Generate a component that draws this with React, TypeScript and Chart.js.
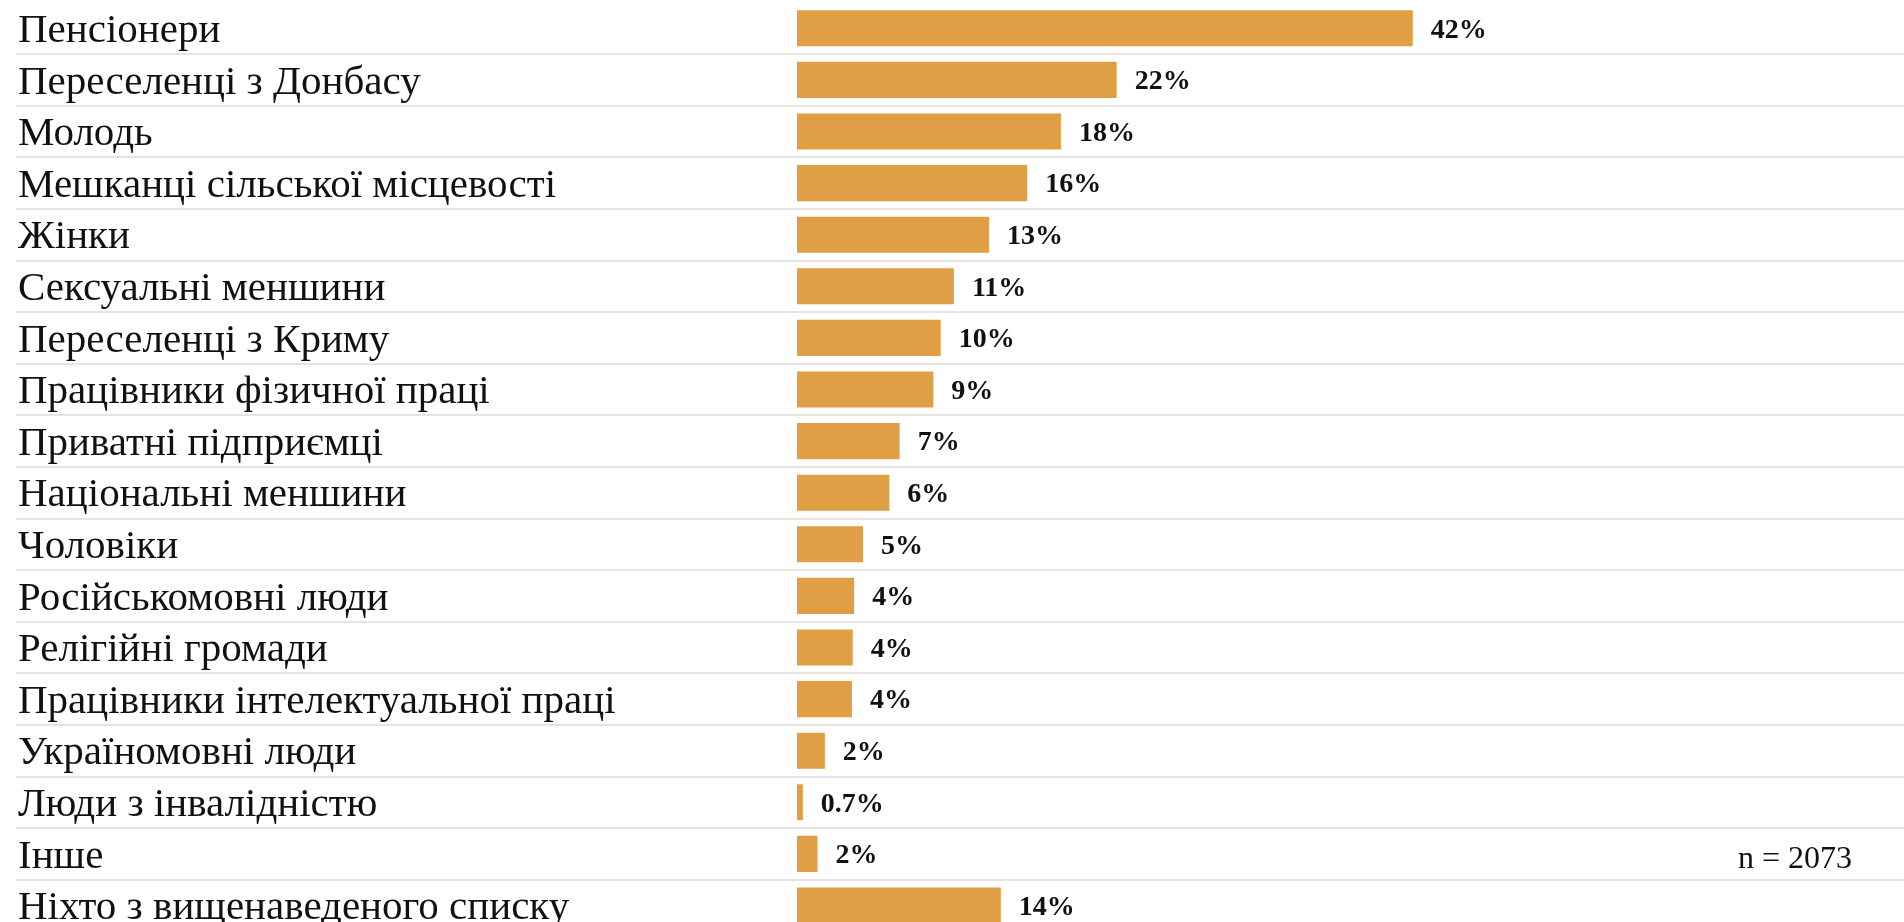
import React, { useEffect, useRef } from "react";
import { Chart, registerables } from "chart.js";

Chart.register(...registerables);

const categories = [
  "Пенсіонери",
  "Переселенці з Донбасу",
  "Молодь",
  "Мешканці сільської місцевості",
  "Жінки",
  "Сексуальні меншини",
  "Переселенці з Криму",
  "Працівники фізичної праці",
  "Приватні підприємці",
  "Національні меншини",
  "Чоловіки",
  "Російськомовні люди",
  "Релігійні громади",
  "Працівники інтелектуальної праці",
  "Україномовні люди",
  "Люди з інвалідністю",
  "Інше",
  "Ніхто з вищенаведеного списку",
];

const values = [42, 21.8, 18, 15.7, 13.1, 10.7, 9.8, 9.3, 7.0, 6.3, 4.5, 3.9, 3.8, 3.75, 1.9, 0.4, 1.4, 13.9];

const valueLabels = ["42%", "22%", "18%", "16%", "13%", "11%", "10%", "9%", "7%", "6%", "5%", "4%", "4%", "4%", "2%", "0.7%", "2%", "14%"];

const sampleNote = "n = 2073";
const noteRow = 16;

const SERIF = '"Liberation Serif", "Times New Roman", serif';

const valueLabelPlugin = {
  id: "valueLabels",
  afterDatasetsDraw(chart: any) {
    const { ctx } = chart;
    const meta = chart.getDatasetMeta(0);
    ctx.save();
    ctx.font = `bold 28px ${SERIF}`;
    ctx.fillStyle = "#111111";
    ctx.textAlign = "left";
    ctx.textBaseline = "middle";
    meta.data.forEach((bar: any, i: number) => {
      ctx.fillText(valueLabels[i], bar.x + 18, bar.y + 2);
    });
    const y = chart.scales.y.getPixelForValue(noteRow);
    ctx.font = `32px ${SERIF}`;
    ctx.textAlign = "right";
    ctx.textBaseline = "alphabetic";
    ctx.fillText(sampleNote, chart.chartArea.right - 52, y + 14);
    ctx.restore();
  },
};

export default function App() {
  const canvasRef = useRef<HTMLCanvasElement | null>(null);

  useEffect(() => {
    if (!canvasRef.current) return;
    const chart = new Chart(canvasRef.current, {
      type: "bar",
      data: {
        labels: categories,
        datasets: [
          {
            data: values,
            backgroundColor: "#e09e45",
            borderWidth: 0,
            barPercentage: 0.7,
            categoryPercentage: 1,
          },
        ],
      },
      options: {
        indexAxis: "y",
        responsive: false,
        animation: false,
        layout: { padding: { top: 2.5, left: 18, right: 0, bottom: 2.7 } },
        plugins: { legend: { display: false }, tooltip: { enabled: false } },
        scales: {
          x: { display: false, min: 0, max: 75.5 },
          y: {
            afterFit: (scale: any) => {
              scale.width = 779;
              scale.paddingTop = 0;
              scale.paddingBottom = 0;
            },
            border: { display: false },
            grid: {
              offset: true,
              drawTicks: true,
              tickLength: 781,
              lineWidth: 2,
              color: (c: any) => (c.index === 0 ? "rgba(0,0,0,0)" : "#e6e4e0"),
            },
            ticks: {
              autoSkip: false,
              crossAlign: "far",
              padding: 0,
              labelOffset: 3,
              color: "#111111",
              font: { family: SERIF, size: 41 },
            },
          },
        },
      },
      plugins: [valueLabelPlugin],
    } as any);
    return () => chart.destroy();
  }, []);

  return (
    <div
      style={{
        position: "fixed",
        left: 0,
        top: 0,
        width: 1904,
        height: 922,
        overflow: "hidden",
        background: "#ffffff",
      }}
    >
      <canvas ref={canvasRef} width={1904} height={934} style={{ display: "block" }} />
    </div>
  );
}
